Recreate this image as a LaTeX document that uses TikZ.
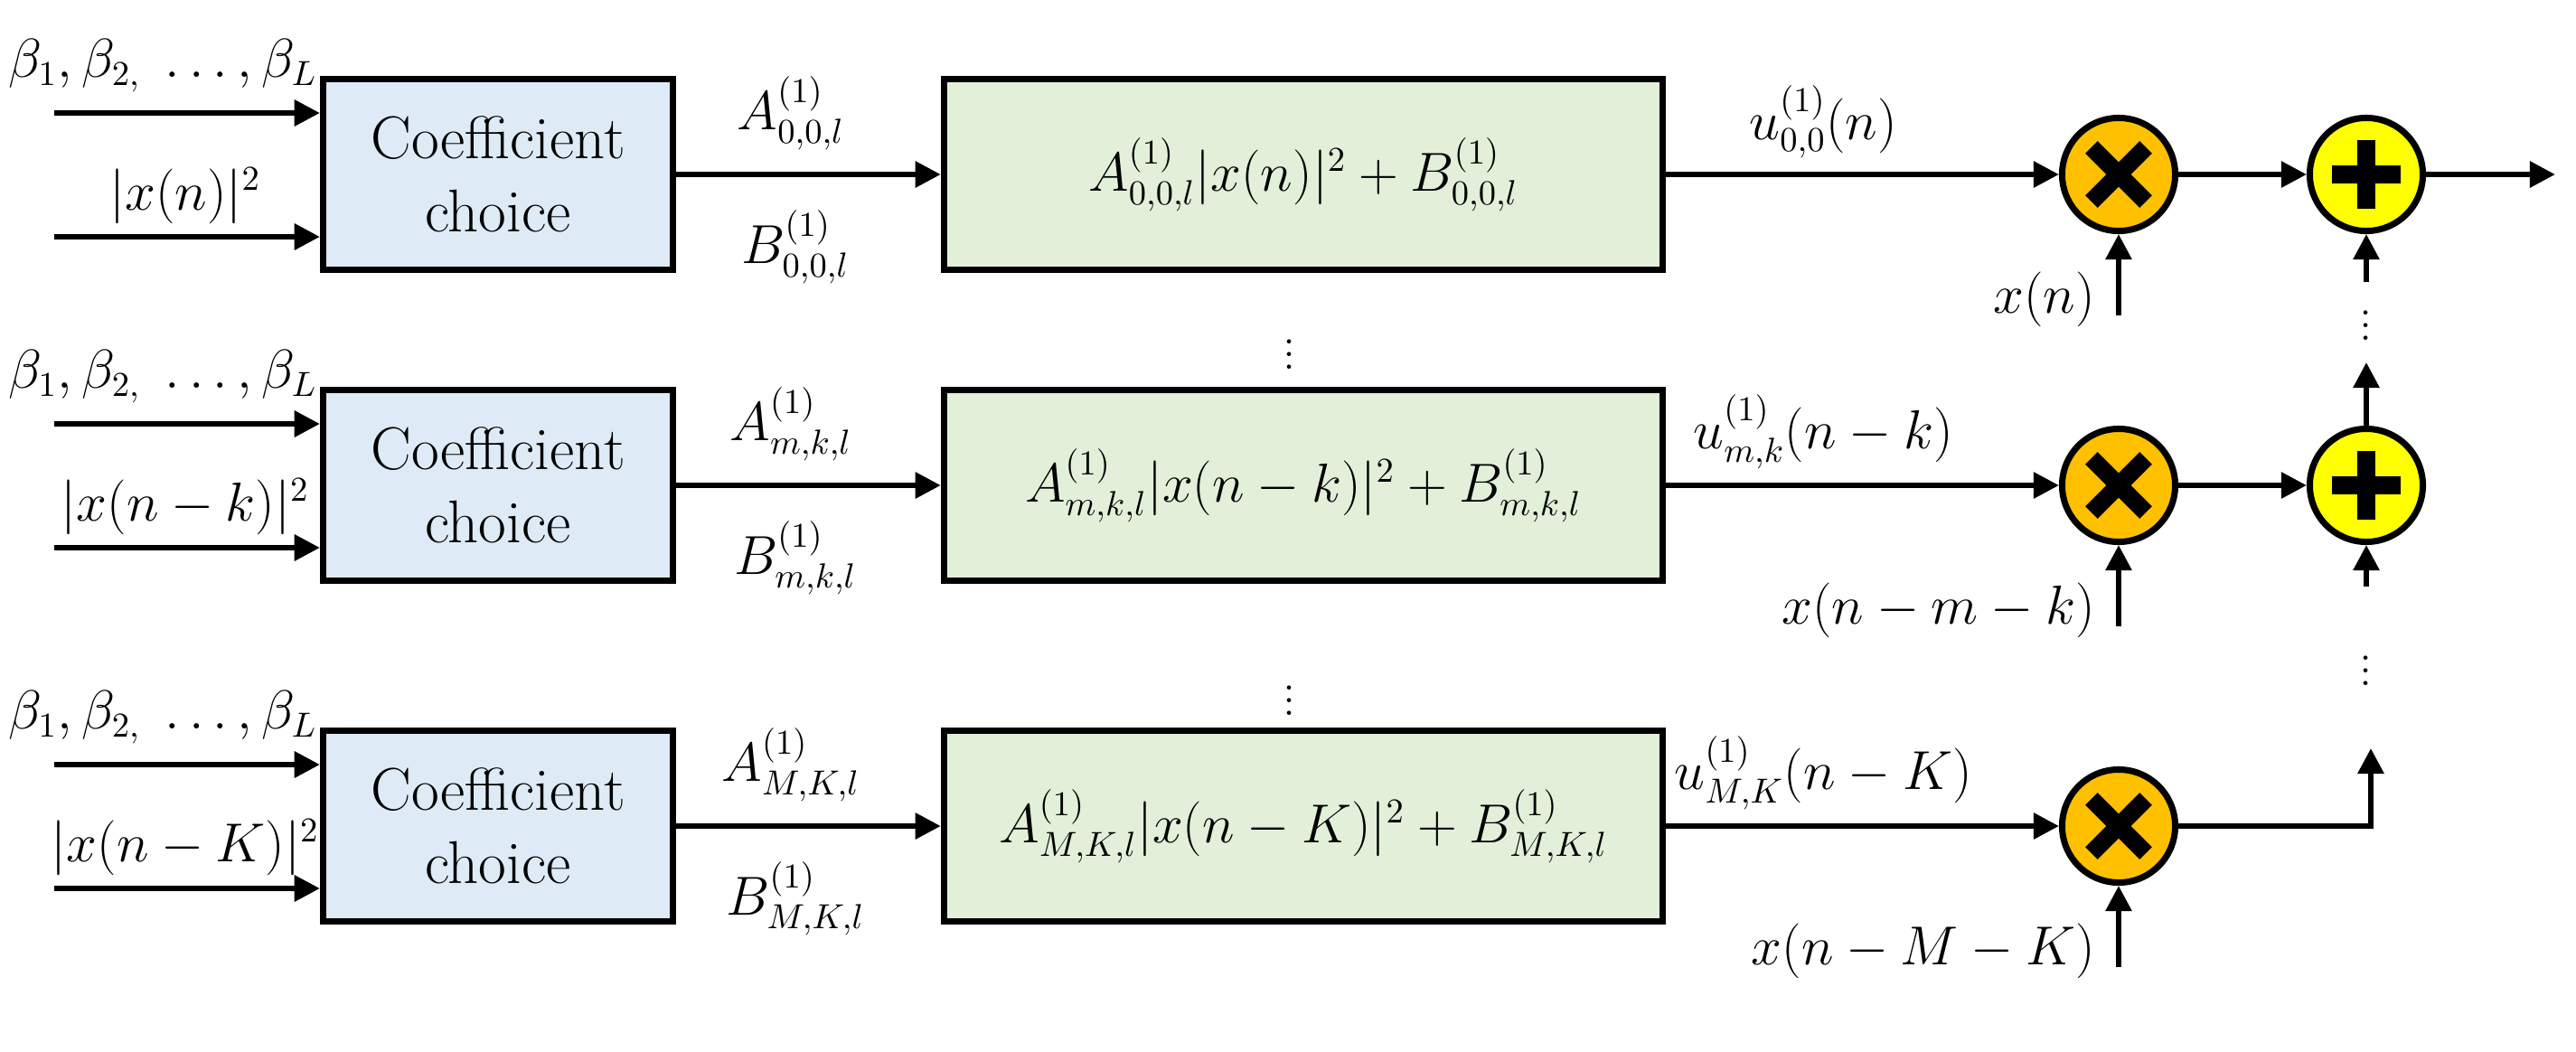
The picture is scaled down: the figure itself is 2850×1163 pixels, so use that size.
\documentclass[tikz,border=0pt]{standalone}
\usepackage{amsmath,amssymb}
\usepackage{xcolor}
\usepackage{tikz}
\usetikzlibrary{positioning,arrows.meta}
\definecolor{ccblue}{HTML}{DEEBF7}
\definecolor{polygreen}{HTML}{E2F0D9}
\definecolor{mulorange}{HTML}{FFC000}
\definecolor{addyellow}{HTML}{FFFF00}

\tikzset{
  sig/.style={line width=1.7pt, -{Triangle[length=8pt,width=8pt]}},
  ccbox/.style={draw, line width=2pt, fill=ccblue, minimum width=3.87cm, minimum height=2.1cm, align=center,
    font=\fontsize{19}{23}\selectfont},
  polybox/.style={draw, line width=2pt, fill=polygreen, minimum width=7.95cm, minimum height=2.1cm},
  dots/.style={inner sep=0pt},
  mulnode/.style={circle, draw, line width=2pt, fill=mulorange, minimum size=1.25cm,
    path picture={\draw[line width=5.5pt] ([shift={(-0.3cm,-0.3cm)}]path picture bounding box.center) -- ++(0.6cm,0.6cm)
                                          ([shift={(-0.3cm,0.3cm)}]path picture bounding box.center) -- ++(0.6cm,-0.6cm);}},
  addnode/.style={circle, draw, line width=2pt, fill=addyellow, minimum size=1.25cm,
    path picture={\draw[line width=5.5pt] ([xshift=-0.38cm]path picture bounding box.center) -- ++(0.76cm,0)
                                          ([yshift=-0.38cm]path picture bounding box.center) -- ++(0,0.76cm);}},
}

\begin{document}
\begin{tikzpicture}[x=0.01cm, y=-0.01cm, font=\fontsize{16}{20}\selectfont]
  \useasboundingbox (0,0) rectangle (2850,1163);

  % One branch per row
  \foreach \r/\y/\s/\d/\m in {1/193/{0,0}/n/n, 2/537/{m,k}/n-k/n-m-k, 3/914/{M,K}/n-K/n-M-K} {
    \node[ccbox] (cc\r) at (551,\y) {Coefficient\\choice};
    \node[polybox] (poly\r) at (1442,\y) {$A^{(1)}_{\s,l}|x(\d)|^2+B^{(1)}_{\s,l}$};
    \node[mulnode] (mul\r) at (2344,\y) {};

    % inputs of the coefficient block
    \coordinate (beta\r) at (60,\y-68);
    \coordinate (mag\r) at (60,\y+69);
    \draw[sig] (beta\r) -- (beta\r -| cc\r.west);
    \draw[sig] (mag\r) -- (mag\r -| cc\r.west);
    \node (betalab\r) at (180,\y-120) {$\beta_1,\beta_{2,}\ \dots,\beta_L$};
    \node (maglab\r) at (205,\y+24) {$|x(\d)|^2$};

    % coefficients
    \draw[sig] (cc\r) -- (poly\r);
    \node (alab\r) at (875,\y-68) {$A^{(1)}_{\s,l}$};
    \node (blab\r) at (880,\y+80) {$B^{(1)}_{\s,l}$};

    % product with delayed input
    \draw[sig] (poly\r) -- (mul\r) node[pos=0.4, above=1pt] (ulab\r) {$u^{(1)}_{\s}(\d)$};
    \node[anchor=east] (xlab\r) at (2330,\y+138) {$x(\m)$};
    \coordinate (xin\r) at (2344,\y+156);
    \draw[sig] (xin\r) -- (mul\r.south);
  }

  % Adders
  \node[addnode] (add1) at (2618,193) {};
  \node[addnode] (add2) at (2618,537) {};
  \coordinate (out) at (2827,193);
  \coordinate (sum1in) at (2618,312);
  \coordinate (sum2out) at (2618,401);
  \coordinate (sum2in) at (2618,649);
  \coordinate (sum3out) at (2623,828);
  \draw[sig] (mul1) -- (add1);
  \draw[sig] (mul2) -- (add2);
  \draw[sig] (add1) -- (out);
  \draw[sig] (sum1in) -- (add1.south);
  \draw[sig] (add2.north) -- (sum2out);
  \draw[sig] (sum2in) -- (add2.south);
  \draw[sig] (mul3.east) -| (sum3out);

  % Dots
  \node[dots] (dots1) at (2618,350) {$\vdots$};
  \node[dots] (dots2) at (2618,732) {$\vdots$};
  \node[dots] (dots3) at (1427,382) {$\vdots$};
  \node[dots] (dots4) at (1427,765) {$\vdots$};
\end{tikzpicture}
\end{document}
